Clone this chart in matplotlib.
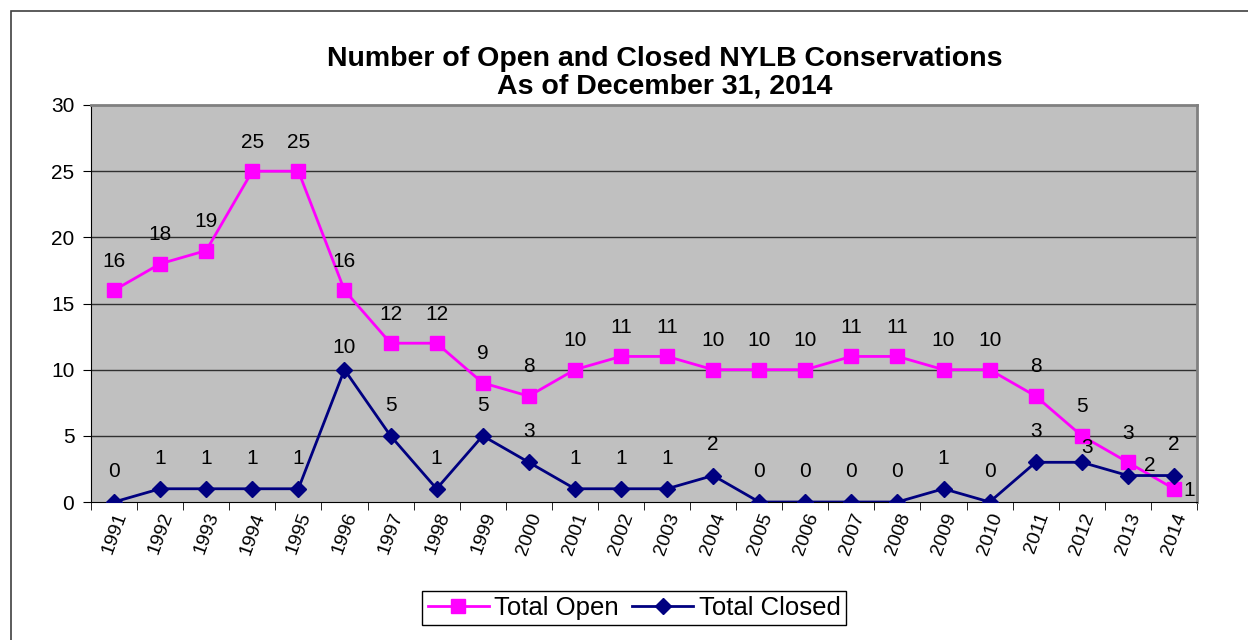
import matplotlib.pyplot as plt
from matplotlib.patches import Rectangle
import numpy as np

plt.rcParams['font.family'] = ['Liberation Sans', 'DejaVu Sans']

#------------------------------------------------------------------------------
years = [str(y) for y in range(1991, 2015)]
total_open = [16, 18, 19, 25, 25, 16, 12, 12, 9, 8, 10, 11, 11, 10, 10, 10,
              11, 11, 10, 10, 8, 5, 3, 1]
total_closed = [0, 1, 1, 1, 1, 10, 5, 1, 5, 3, 1, 1, 1, 2, 0, 0, 0, 0, 1, 0,
                3, 3, 2, 2]
#------------------------------------------------------------------------------

fig = plt.figure(figsize=(12.48, 6.4), dpi=100)
ax = fig.add_axes([91/1248, 138/640, 1106/1248, 397/640])

# outer chart border
fig.patches.append(Rectangle((11/1248, -0.1), 1.2, (629/640) + 0.1,
                             transform=fig.transFigure, fill=False,
                             edgecolor='#404040', linewidth=1.2))

x = np.arange(len(years))
ax.set_facecolor('#C0C0C0')
for yv in [5, 10, 15, 20, 25]:
    ax.axhline(yv, color='#303030', linewidth=1, zorder=1)

ax.plot(x, total_open, color='#FF00FF', linewidth=2, marker='s',
        markersize=10, label='Total Open', zorder=3)
ax.plot(x, total_closed, color='#000080', linewidth=2, marker='D',
        markersize=8, label='Total Closed', zorder=4)

#--------------data labels-----------------------------------------------------
for i, v in enumerate(total_open):
    off = (0, 21)
    if i == len(total_open) - 1:
        off = (11, -1)
    ax.annotate(str(v), (x[i], v), xytext=off, textcoords='offset points',
                ha='center', va='center', fontsize=15, zorder=6)
for i, v in enumerate(total_closed):
    off = (0, 22)
    if i == 5:
        off = (0, 16)
    elif i == 21:
        off = (4, 11)
    elif i == 22:
        off = (16, 7)
    ax.annotate(str(v), (x[i], v), xytext=off, textcoords='offset points',
                ha='center', va='center', fontsize=15, zorder=6)

#--------------axes-------------------------------------------------------------
ax.set_xlim(-0.5, len(years) - 0.5)
ax.set_ylim(0, 30)
ax.set_yticks(np.arange(0, 31, 5))
ax.set_xticks(x)
ax.set_xticklabels(years, rotation=70, ha='right', rotation_mode='anchor',
                   fontsize=14)
ax.set_xticks(np.arange(-0.5, len(years), 1), minor=True)
ax.tick_params(axis='x', which='major', length=0, pad=6)
ax.tick_params(axis='x', which='minor', length=6, direction='out')
ax.tick_params(axis='y', labelsize=15, length=6, direction='out', pad=6)

for s in ['top', 'right']:
    ax.spines[s].set_color('#808080')
    ax.spines[s].set_linewidth(2)
for s in ['left', 'bottom']:
    ax.spines[s].set_color('black')

fig.text(665/1248, 1 - 73/640, 'Number of Open and Closed NYLB Conservations\nAs of December 31, 2014',
         ha='center', va='center', fontsize=20.5, fontweight='bold', linespacing=1.05)

leg = fig.legend(loc='center', bbox_to_anchor=(634/1248, 1 - 608/640), ncol=2,
                 fontsize=18.5, fancybox=False, edgecolor='black', framealpha=1,
                 handlelength=2.4, columnspacing=0.5, handletextpad=0.2,
                 borderpad=0.2)
leg.get_frame().set_linewidth(1)

plt.savefig('out.png', dpi=100)
